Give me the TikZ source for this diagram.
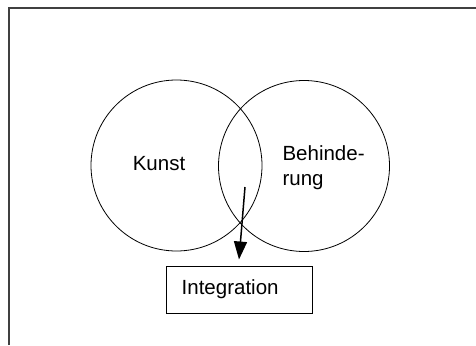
\documentclass[tikz,border=0pt]{standalone}
\usepackage{fontspec}
\setmainfont{Liberation Sans}
\usetikzlibrary{arrows.meta}
\begin{document}
\begin{tikzpicture}[x=1pt,y=-1pt,
    setcircle/.style={draw,circle,minimum size=171pt,inner sep=0pt,line width=0.8pt},
    settext/.style={font=\fontsize{20.5}{25}\selectfont,align=left},
    intbox/.style={draw,rectangle,line width=1pt,minimum height=47pt,text width=114.6pt,
      inner xsep=15.7pt,inner ysep=0pt,align=left,font=\fontsize{20.5}{25}\selectfont}]
  \useasboundingbox (0,0) rectangle (476,345);
  \draw[line width=2pt,black!75] (8.5,345) -- (8.5,8.5) -- (476,8.5);
  \node[setcircle] (kunst) at (176.5,165.5) {};
  \node[setcircle] (behinderung) at (304,166) {};
  \node[settext] (kunsttext) at (159,164) {Kunst};
  \node[settext,anchor=west] (behindtext) at (279,168) {Behinde-\\rung};
  \node[intbox] (integration) at (239,289.5) {Integration};
  \coordinate (from) at (245,187);
  \draw[line width=1.5pt,-{Triangle[length=18pt,width=13pt]}] (from) -- ([yshift=6pt]integration.north);
\end{tikzpicture}
\end{document}
